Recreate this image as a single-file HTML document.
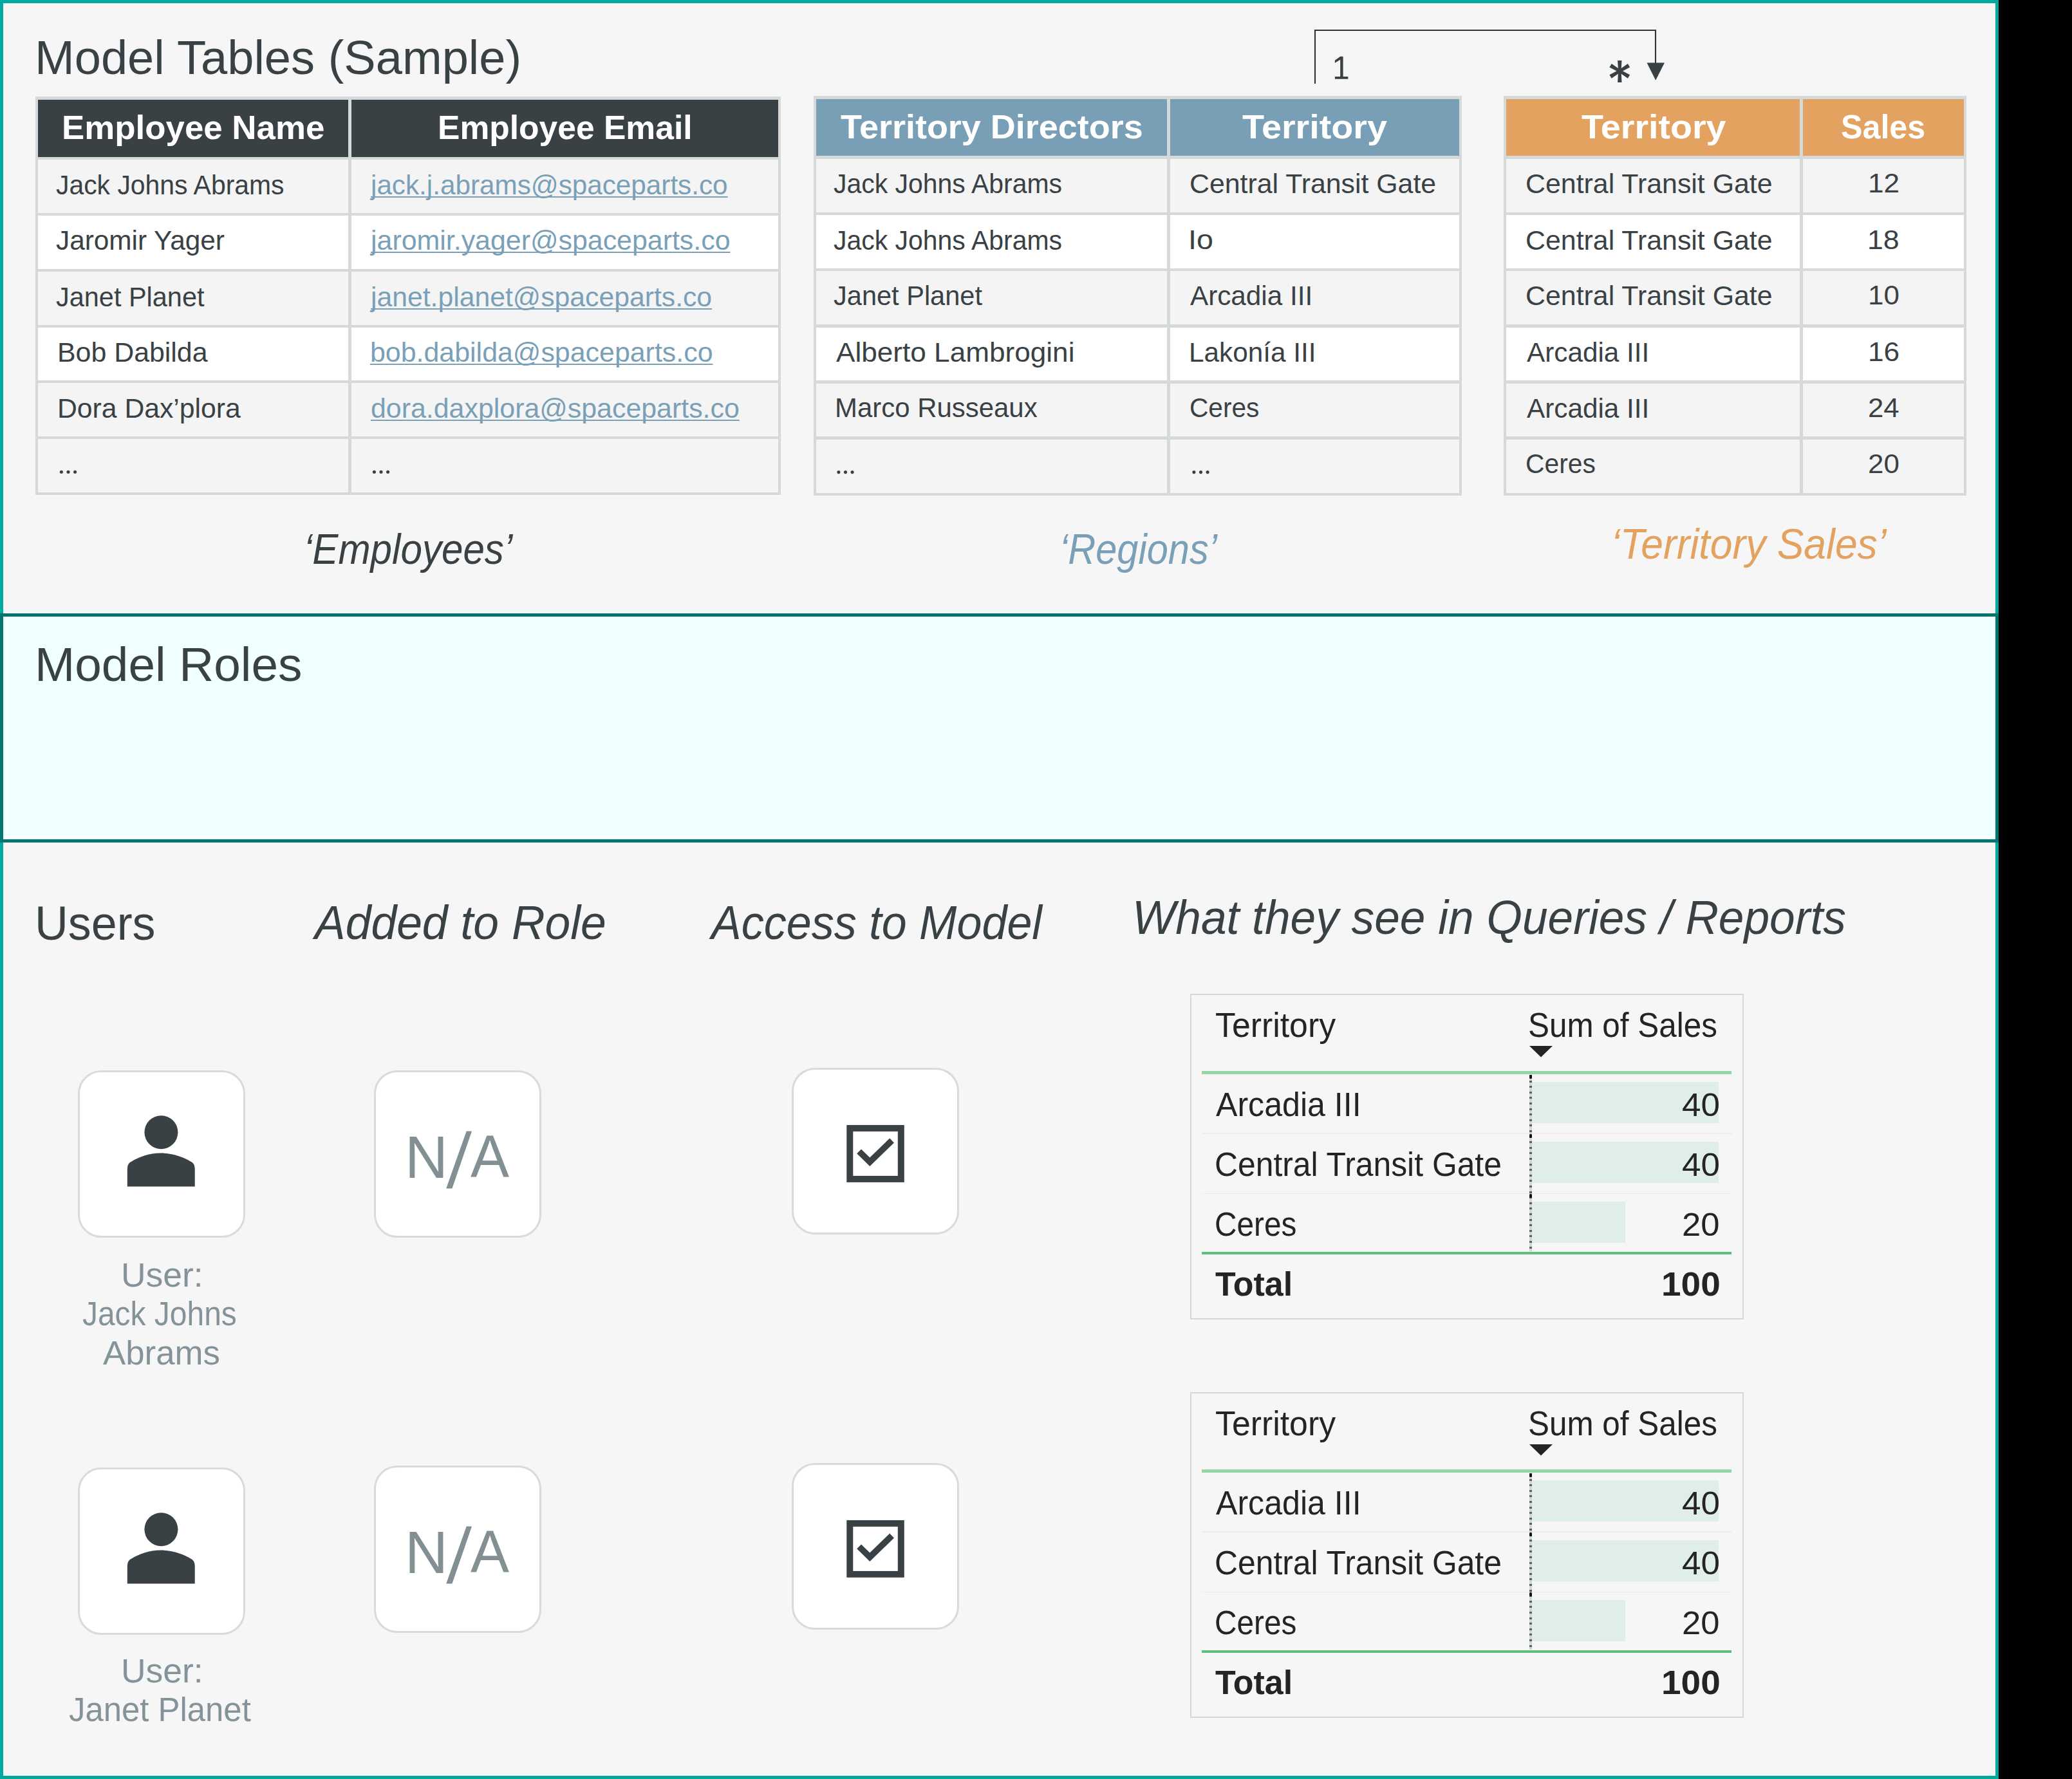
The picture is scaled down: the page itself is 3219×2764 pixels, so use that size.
<!DOCTYPE html>
<html><head><meta charset="utf-8"><title>Model Roles</title>
<style>
html,body{margin:0;padding:0;}
body{width:3219px;height:2764px;background:#000;position:relative;overflow:hidden;font-family:"Liberation Sans", sans-serif;}
</style></head><body>
<div style="position:absolute;left:0px;top:0px;width:3095px;height:2754px;border:5px solid #00a99d;background:#f6f6f6"></div>
<div style="position:absolute;left:0px;top:953px;width:3095px;height:346px;border:5px solid #03756f;background:#f0ffff"></div>
<div style="position:absolute;left:54.47px;top:53.01px;font-size:73.69px;line-height:73.69px;white-space:nowrap;transform:scaleX(1.0052);transform-origin:0 0;color:#394145;">Model Tables (Sample)</div>
<div style="position:absolute;left:53.52px;top:996.09px;font-size:73.84px;line-height:73.84px;white-space:nowrap;transform:scaleX(1.0123);transform-origin:0 0;color:#394145;">Model Roles</div>
<div style="position:absolute;left:54.12px;top:1398.14px;font-size:73.55px;line-height:73.55px;white-space:nowrap;transform:scaleX(0.9763);transform-origin:0 0;color:#394145;">Users</div>
<div style="position:absolute;left:488.87px;top:1397.21px;font-size:73.69px;line-height:73.69px;white-space:nowrap;transform:scaleX(0.9696);transform-origin:0 0;color:#394145;font-style:italic;">Added to Role</div>
<div style="position:absolute;left:1105.40px;top:1397.21px;font-size:73.69px;line-height:73.69px;white-space:nowrap;transform:scaleX(0.9506);transform-origin:0 0;color:#394145;font-style:italic;">Access to Model</div>
<div style="position:absolute;left:1759.34px;top:1389.34px;font-size:73.55px;line-height:73.55px;white-space:nowrap;transform:scaleX(0.9688);transform-origin:0 0;color:#394145;font-style:italic;">What they see in Queries / Reports</div>
<div style="position:absolute;left:55px;top:150.25px;width:1158px;height:619.05px;background:#d5d9da"></div>
<div style="position:absolute;left:59.4px;top:155.05px;width:482.1px;height:88.75px;background:#394145"></div>
<div style="position:absolute;left:545.9px;top:155.05px;width:662.9px;height:88.75px;background:#394145"></div>
<div style="position:absolute;left:96.06px;top:172.18px;font-size:52.47px;line-height:52.47px;white-space:nowrap;transform:scaleX(1.0073);transform-origin:0 0;color:#fff;font-weight:bold;">Employee Name</div>
<div style="position:absolute;left:680.05px;top:172.18px;font-size:52.47px;line-height:52.47px;white-space:nowrap;transform:scaleX(0.9829);transform-origin:0 0;color:#fff;font-weight:bold;">Employee Email</div>
<div style="position:absolute;left:59.4px;top:248.1px;width:482.1px;height:82.9px;background:#f4f4f4"></div>
<div style="position:absolute;left:545.9px;top:248.1px;width:662.9px;height:82.9px;background:#f4f4f4"></div>
<div style="position:absolute;left:86.89px;top:265.55px;font-size:42.59px;line-height:42.59px;white-space:nowrap;transform:scaleX(0.9602);transform-origin:0 0;color:#394145;">Jack Johns Abrams</div>
<div style="position:absolute;left:576.06px;top:265.55px;font-size:42.59px;line-height:42.59px;white-space:nowrap;transform:scaleX(0.9919);transform-origin:0 0;color:#7aa0b8;text-decoration:underline;text-decoration-thickness:2px;text-underline-offset:3px;text-decoration-skip-ink:none">jack.j.abrams@spaceparts.co</div>
<div style="position:absolute;left:59.4px;top:334.9px;width:482.1px;height:82.9px;background:#ffffff"></div>
<div style="position:absolute;left:545.9px;top:334.9px;width:662.9px;height:82.9px;background:#ffffff"></div>
<div style="position:absolute;left:86.87px;top:352.15px;font-size:42.59px;line-height:42.59px;white-space:nowrap;transform:scaleX(0.9938);transform-origin:0 0;color:#394145;">Jaromir Yager</div>
<div style="position:absolute;left:576.07px;top:352.15px;font-size:42.59px;line-height:42.59px;white-space:nowrap;transform:scaleX(1.0075);transform-origin:0 0;color:#7aa0b8;text-decoration:underline;text-decoration-thickness:2px;text-underline-offset:3px;text-decoration-skip-ink:none">jaromir.yager@spaceparts.co</div>
<div style="position:absolute;left:59.4px;top:421.7px;width:482.1px;height:82.9px;background:#f4f4f4"></div>
<div style="position:absolute;left:545.9px;top:421.7px;width:662.9px;height:82.9px;background:#f4f4f4"></div>
<div style="position:absolute;left:86.88px;top:439.75px;font-size:42.59px;line-height:42.59px;white-space:nowrap;transform:scaleX(0.9736);transform-origin:0 0;color:#394145;">Janet Planet</div>
<div style="position:absolute;left:576.07px;top:439.75px;font-size:42.59px;line-height:42.59px;white-space:nowrap;transform:scaleX(1.0031);transform-origin:0 0;color:#7aa0b8;text-decoration:underline;text-decoration-thickness:2px;text-underline-offset:3px;text-decoration-skip-ink:none">janet.planet@spaceparts.co</div>
<div style="position:absolute;left:59.4px;top:508.5px;width:482.1px;height:82.9px;background:#ffffff"></div>
<div style="position:absolute;left:545.9px;top:508.5px;width:662.9px;height:82.9px;background:#ffffff"></div>
<div style="position:absolute;left:89.07px;top:526.35px;font-size:42.59px;line-height:42.59px;white-space:nowrap;transform:scaleX(1.0067);transform-origin:0 0;color:#394145;">Bob Dabilda</div>
<div style="position:absolute;left:574.71px;top:526.35px;font-size:42.59px;line-height:42.59px;white-space:nowrap;transform:scaleX(1.0076);transform-origin:0 0;color:#7aa0b8;text-decoration:underline;text-decoration-thickness:2px;text-underline-offset:3px;text-decoration-skip-ink:none">bob.dabilda@spaceparts.co</div>
<div style="position:absolute;left:59.4px;top:595.3px;width:482.1px;height:82.9px;background:#f4f4f4"></div>
<div style="position:absolute;left:545.9px;top:595.3px;width:662.9px;height:82.9px;background:#f4f4f4"></div>
<div style="position:absolute;left:89.08px;top:612.95px;font-size:42.59px;line-height:42.59px;white-space:nowrap;transform:scaleX(1.0030);transform-origin:0 0;color:#394145;">Dora Dax&#8217;plora</div>
<div style="position:absolute;left:575.78px;top:612.95px;font-size:42.59px;line-height:42.59px;white-space:nowrap;transform:scaleX(1.0073);transform-origin:0 0;color:#7aa0b8;text-decoration:underline;text-decoration-thickness:2px;text-underline-offset:3px;text-decoration-skip-ink:none">dora.daxplora@spaceparts.co</div>
<div style="position:absolute;left:59.4px;top:682.1px;width:482.1px;height:82.9px;background:#f4f4f4"></div>
<div style="position:absolute;left:545.9px;top:682.1px;width:662.9px;height:82.9px;background:#f4f4f4"></div>
<svg style="position:absolute;left:0;top:0;overflow:visible" width="1" height="1"><circle cx="95.40" cy="733.20" r="2.55" fill="#394145"/><circle cx="106.00" cy="733.20" r="2.55" fill="#394145"/><circle cx="116.60" cy="733.20" r="2.55" fill="#394145"/></svg>
<svg style="position:absolute;left:0;top:0;overflow:visible" width="1" height="1"><circle cx="581.40" cy="733.20" r="2.55" fill="#394145"/><circle cx="592.00" cy="733.20" r="2.55" fill="#394145"/><circle cx="602.60" cy="733.20" r="2.55" fill="#394145"/></svg>
<div style="position:absolute;left:1264px;top:149.0px;width:1007px;height:621.0px;background:#d5d9da"></div>
<div style="position:absolute;left:1268.4px;top:153.8px;width:545.0999999999999px;height:88.5px;background:#799fb7"></div>
<div style="position:absolute;left:1817.9px;top:153.8px;width:448.9000000000001px;height:88.5px;background:#799fb7"></div>
<div style="position:absolute;left:1306.46px;top:170.98px;font-size:52.47px;line-height:52.47px;white-space:nowrap;transform:scaleX(1.0283);transform-origin:0 0;color:#fff;font-weight:bold;">Territory Directors</div>
<div style="position:absolute;left:1930.44px;top:170.98px;font-size:52.47px;line-height:52.47px;white-space:nowrap;transform:scaleX(1.0619);transform-origin:0 0;color:#fff;font-weight:bold;">Territory</div>
<div style="position:absolute;left:1268.4px;top:247.0px;width:545.0999999999999px;height:82.7px;background:#f4f4f4"></div>
<div style="position:absolute;left:1817.9px;top:247.0px;width:448.9000000000001px;height:82.7px;background:#f4f4f4"></div>
<div style="position:absolute;left:1295.39px;top:264.35px;font-size:42.59px;line-height:42.59px;white-space:nowrap;transform:scaleX(0.9616);transform-origin:0 0;color:#394145;">Jack Johns Abrams</div>
<div style="position:absolute;left:1847.86px;top:264.35px;font-size:42.59px;line-height:42.59px;white-space:nowrap;transform:scaleX(1.0056);transform-origin:0 0;color:#394145;">Central Transit Gate</div>
<div style="position:absolute;left:1268.4px;top:334.2px;width:545.0999999999999px;height:82.7px;background:#ffffff"></div>
<div style="position:absolute;left:1817.9px;top:334.2px;width:448.9000000000001px;height:82.7px;background:#ffffff"></div>
<div style="position:absolute;left:1295.39px;top:351.75px;font-size:42.59px;line-height:42.59px;white-space:nowrap;transform:scaleX(0.9616);transform-origin:0 0;color:#394145;">Jack Johns Abrams</div>
<div style="position:absolute;left:1846.41px;top:350.75px;font-size:42.59px;line-height:42.59px;white-space:nowrap;transform:scaleX(1.0925);transform-origin:0 0;color:#394145;">Io</div>
<div style="position:absolute;left:1268.4px;top:421.4px;width:545.0999999999999px;height:82.7px;background:#f4f4f4"></div>
<div style="position:absolute;left:1817.9px;top:421.4px;width:448.9000000000001px;height:82.7px;background:#f4f4f4"></div>
<div style="position:absolute;left:1295.38px;top:438.15px;font-size:42.59px;line-height:42.59px;white-space:nowrap;transform:scaleX(0.9757);transform-origin:0 0;color:#394145;">Janet Planet</div>
<div style="position:absolute;left:1849.00px;top:438.15px;font-size:42.59px;line-height:42.59px;white-space:nowrap;transform:scaleX(0.9920);transform-origin:0 0;color:#394145;">Arcadia III</div>
<div style="position:absolute;left:1268.4px;top:508.6px;width:545.0999999999999px;height:82.7px;background:#ffffff"></div>
<div style="position:absolute;left:1817.9px;top:508.6px;width:448.9000000000001px;height:82.7px;background:#ffffff"></div>
<div style="position:absolute;left:1299.00px;top:525.55px;font-size:42.59px;line-height:42.59px;white-space:nowrap;transform:scaleX(1.0366);transform-origin:0 0;color:#394145;">Alberto Lambrogini</div>
<div style="position:absolute;left:1847.22px;top:525.55px;font-size:42.59px;line-height:42.59px;white-space:nowrap;transform:scaleX(0.9931);transform-origin:0 0;color:#394145;">Lakon&#237;a III</div>
<div style="position:absolute;left:1268.4px;top:595.8px;width:545.0999999999999px;height:82.7px;background:#f4f4f4"></div>
<div style="position:absolute;left:1817.9px;top:595.8px;width:448.9000000000001px;height:82.7px;background:#f4f4f4"></div>
<div style="position:absolute;left:1296.64px;top:611.95px;font-size:42.59px;line-height:42.59px;white-space:nowrap;transform:scaleX(0.9848);transform-origin:0 0;color:#394145;">Marco Russeaux</div>
<div style="position:absolute;left:1847.97px;top:611.95px;font-size:42.59px;line-height:42.59px;white-space:nowrap;transform:scaleX(0.9538);transform-origin:0 0;color:#394145;">Ceres</div>
<div style="position:absolute;left:1268.4px;top:683.0px;width:545.0999999999999px;height:82.7px;background:#f4f4f4"></div>
<div style="position:absolute;left:1817.9px;top:683.0px;width:448.9000000000001px;height:82.7px;background:#f4f4f4"></div>
<svg style="position:absolute;left:0;top:0;overflow:visible" width="1" height="1"><circle cx="1302.90" cy="733.60" r="2.55" fill="#394145"/><circle cx="1313.50" cy="733.60" r="2.55" fill="#394145"/><circle cx="1324.10" cy="733.60" r="2.55" fill="#394145"/></svg>
<svg style="position:absolute;left:0;top:0;overflow:visible" width="1" height="1"><circle cx="1854.90" cy="733.60" r="2.55" fill="#394145"/><circle cx="1865.50" cy="733.60" r="2.55" fill="#394145"/><circle cx="1876.10" cy="733.60" r="2.55" fill="#394145"/></svg>
<div style="position:absolute;left:2336px;top:149.0px;width:719px;height:621.0px;background:#d5d9da"></div>
<div style="position:absolute;left:2340.4px;top:153.8px;width:456.0999999999999px;height:88.5px;background:#e4a261"></div>
<div style="position:absolute;left:2800.9px;top:153.8px;width:249.9000000000001px;height:88.5px;background:#e4a261"></div>
<div style="position:absolute;left:2456.94px;top:170.98px;font-size:52.47px;line-height:52.47px;white-space:nowrap;transform:scaleX(1.0596);transform-origin:0 0;color:#fff;font-weight:bold;">Territory</div>
<div style="position:absolute;left:2860.49px;top:170.98px;font-size:52.47px;line-height:52.47px;white-space:nowrap;transform:scaleX(0.9567);transform-origin:0 0;color:#fff;font-weight:bold;">Sales</div>
<div style="position:absolute;left:2340.4px;top:247.0px;width:456.0999999999999px;height:82.7px;background:#f4f4f4"></div>
<div style="position:absolute;left:2800.9px;top:247.0px;width:249.9000000000001px;height:82.7px;background:#f4f4f4"></div>
<div style="position:absolute;left:2370.36px;top:264.35px;font-size:42.59px;line-height:42.59px;white-space:nowrap;transform:scaleX(1.0069);transform-origin:0 0;color:#394145;">Central Transit Gate</div>
<div style="position:absolute;left:2901.69px;top:263.35px;font-size:42.59px;line-height:42.59px;white-space:nowrap;transform:scaleX(1.0370);transform-origin:0 0;color:#394145;">12</div>
<div style="position:absolute;left:2340.4px;top:334.2px;width:456.0999999999999px;height:82.7px;background:#ffffff"></div>
<div style="position:absolute;left:2800.9px;top:334.2px;width:249.9000000000001px;height:82.7px;background:#ffffff"></div>
<div style="position:absolute;left:2370.36px;top:351.75px;font-size:42.59px;line-height:42.59px;white-space:nowrap;transform:scaleX(1.0069);transform-origin:0 0;color:#394145;">Central Transit Gate</div>
<div style="position:absolute;left:2901.15px;top:350.75px;font-size:42.59px;line-height:42.59px;white-space:nowrap;transform:scaleX(1.0502);transform-origin:0 0;color:#394145;">18</div>
<div style="position:absolute;left:2340.4px;top:421.4px;width:456.0999999999999px;height:82.7px;background:#f4f4f4"></div>
<div style="position:absolute;left:2800.9px;top:421.4px;width:249.9000000000001px;height:82.7px;background:#f4f4f4"></div>
<div style="position:absolute;left:2370.36px;top:438.15px;font-size:42.59px;line-height:42.59px;white-space:nowrap;transform:scaleX(1.0069);transform-origin:0 0;color:#394145;">Central Transit Gate</div>
<div style="position:absolute;left:2901.70px;top:437.15px;font-size:42.59px;line-height:42.59px;white-space:nowrap;transform:scaleX(1.0332);transform-origin:0 0;color:#394145;">10</div>
<div style="position:absolute;left:2340.4px;top:508.6px;width:456.0999999999999px;height:82.7px;background:#ffffff"></div>
<div style="position:absolute;left:2800.9px;top:508.6px;width:249.9000000000001px;height:82.7px;background:#ffffff"></div>
<div style="position:absolute;left:2372.00px;top:525.55px;font-size:42.59px;line-height:42.59px;white-space:nowrap;transform:scaleX(0.9930);transform-origin:0 0;color:#394145;">Arcadia III</div>
<div style="position:absolute;left:2901.68px;top:524.55px;font-size:42.59px;line-height:42.59px;white-space:nowrap;transform:scaleX(1.0384);transform-origin:0 0;color:#394145;">16</div>
<div style="position:absolute;left:2340.4px;top:595.8px;width:456.0999999999999px;height:82.7px;background:#f4f4f4"></div>
<div style="position:absolute;left:2800.9px;top:595.8px;width:249.9000000000001px;height:82.7px;background:#f4f4f4"></div>
<div style="position:absolute;left:2372.00px;top:612.95px;font-size:42.59px;line-height:42.59px;white-space:nowrap;transform:scaleX(0.9930);transform-origin:0 0;color:#394145;">Arcadia III</div>
<div style="position:absolute;left:2901.82px;top:611.95px;font-size:42.59px;line-height:42.59px;white-space:nowrap;transform:scaleX(1.0259);transform-origin:0 0;color:#394145;">24</div>
<div style="position:absolute;left:2340.4px;top:683.0px;width:456.0999999999999px;height:82.7px;background:#f4f4f4"></div>
<div style="position:absolute;left:2800.9px;top:683.0px;width:249.9000000000001px;height:82.7px;background:#f4f4f4"></div>
<div style="position:absolute;left:2370.46px;top:699.35px;font-size:42.59px;line-height:42.59px;white-space:nowrap;transform:scaleX(0.9583);transform-origin:0 0;color:#394145;">Ceres</div>
<div style="position:absolute;left:2901.80px;top:699.35px;font-size:42.59px;line-height:42.59px;white-space:nowrap;transform:scaleX(1.0309);transform-origin:0 0;color:#394145;">20</div>
<div style="position:absolute;left:472.28px;top:820.49px;font-size:66.28px;line-height:66.28px;white-space:nowrap;transform:scaleX(0.9078);transform-origin:0 0;color:#394145;font-style:italic;">&#8216;Employees&#8217;</div>
<div style="position:absolute;left:1646.34px;top:820.49px;font-size:66.28px;line-height:66.28px;white-space:nowrap;transform:scaleX(0.8985);transform-origin:0 0;color:#7aa0b8;font-style:italic;">&#8216;Regions&#8217;</div>
<div style="position:absolute;left:2502.57px;top:811.89px;font-size:66.28px;line-height:66.28px;white-space:nowrap;transform:scaleX(0.9416);transform-origin:0 0;color:#e4a261;font-style:italic;">&#8216;Territory Sales&#8217;</div>
<svg style="position:absolute;left:0;top:0" width="3219" height="200" viewBox="0 0 3219 200">
<path d="M2043,130 V47 H2572 V100" fill="none" stroke="#2d3436" stroke-width="2.1"/>
<path d="M2558.5,97.5 H2586 L2572.2,124.8 Z" fill="#394145"/>
<path fill="#394145" d="M2518.50,110.40 L2519.50,94.00 L2513.10,94.00 L2514.10,110.40 Z M2514.10,110.40 L2513.10,128.00 L2519.50,128.00 L2518.50,110.40 Z M2517.43,108.51 L2503.72,99.11 L2500.42,104.59 L2515.17,112.29 Z M2515.17,108.51 L2500.42,116.21 L2503.72,121.69 L2517.43,112.29 Z M2517.43,112.29 L2532.18,104.59 L2528.88,99.11 L2515.17,108.51 Z M2515.17,112.29 L2528.88,121.69 L2532.18,116.21 L2517.43,108.51 Z"/>
<path fill="#394145" d="M2082.2,87.8 L2086.6,87.8 L2086.6,119.1 L2094.3,119.1 L2094.3,122.8 L2073.9,122.8 L2073.9,119.1 L2082.2,119.1 L2082.2,92.8 L2073.9,97.8 L2073.9,93.7 Z"/>
</svg>
<div style="position:absolute;left:121.3px;top:1663.4px;width:260px;height:260px;border:3px solid #dadada;background:#fff;border-radius:36px;box-sizing:border-box"></div>
<svg style="position:absolute;left:121.3px;top:1663.4px" width="259" height="259" viewBox="0 0 259 259">
<circle cx="129.4" cy="96.2" r="26" fill="#394145"/>
<path d="M76.8,180.5 V153 Q76.8,144.5 83.5,141.5 C94,135 111,128.6 129.2,128.6 C147.5,128.6 164.5,135 175,141.5 Q181.7,144.5 181.7,153 V180.5 Z" fill="#394145"/>
</svg>
<div style="position:absolute;left:581.3px;top:1663.4px;width:260px;height:260px;border:3px solid #dadada;background:#fff;border-radius:36px;box-sizing:border-box"></div>
<div style="position:absolute;left:629.49px;top:1752.45px;font-size:93.02px;line-height:93.02px;white-space:nowrap;transform:scaleX(0.9963);transform-origin:0 0;color:#828f93;">N</div>
<div style="position:absolute;left:731.30px;top:1751.35px;font-size:93.02px;line-height:93.02px;white-space:nowrap;transform:scaleX(0.9667);transform-origin:0 0;color:#828f93;">A</div>
<svg style="position:absolute;left:581.3px;top:1663.4px" width="260" height="260"><path d="M143.7,94.4 H152 L121.4,183.4 H112.2 Z" fill="#828f93"/></svg>
<div style="position:absolute;left:1230.2px;top:1659.1px;width:260px;height:259px;border:3px solid #dadada;background:#fff;border-radius:36px;box-sizing:border-box"></div>
<svg style="position:absolute;left:1230.2px;top:1659.1px" width="259" height="259" viewBox="0 0 259 259">
<rect x="90.3" y="93.9" width="79.5" height="79" fill="none" stroke="#394145" stroke-width="10"/>
<path d="M104.6,129.9 L121.3,146.3 L155.6,113" fill="none" stroke="#394145" stroke-width="9.7" stroke-linecap="butt" stroke-linejoin="miter"/>
</svg>
<div style="position:absolute;left:121.3px;top:2280px;width:260px;height:260px;border:3px solid #dadada;background:#fff;border-radius:36px;box-sizing:border-box"></div>
<svg style="position:absolute;left:121.3px;top:2280px" width="259" height="259" viewBox="0 0 259 259">
<circle cx="129.4" cy="96.2" r="26" fill="#394145"/>
<path d="M76.8,180.5 V153 Q76.8,144.5 83.5,141.5 C94,135 111,128.6 129.2,128.6 C147.5,128.6 164.5,135 175,141.5 Q181.7,144.5 181.7,153 V180.5 Z" fill="#394145"/>
</svg>
<div style="position:absolute;left:581.3px;top:2277px;width:260px;height:260px;border:3px solid #dadada;background:#fff;border-radius:36px;box-sizing:border-box"></div>
<div style="position:absolute;left:629.49px;top:2365.65px;font-size:93.02px;line-height:93.02px;white-space:nowrap;transform:scaleX(0.9963);transform-origin:0 0;color:#828f93;">N</div>
<div style="position:absolute;left:731.30px;top:2364.95px;font-size:93.02px;line-height:93.02px;white-space:nowrap;transform:scaleX(0.9667);transform-origin:0 0;color:#828f93;">A</div>
<svg style="position:absolute;left:581.3px;top:2277px" width="260" height="260"><path d="M143.7,94.4 H152 L121.4,183.4 H112.2 Z" fill="#828f93"/></svg>
<div style="position:absolute;left:1230.2px;top:2273px;width:260px;height:259px;border:3px solid #dadada;background:#fff;border-radius:36px;box-sizing:border-box"></div>
<svg style="position:absolute;left:1230.2px;top:2273px" width="259" height="259" viewBox="0 0 259 259">
<rect x="90.3" y="93.9" width="79.5" height="79" fill="none" stroke="#394145" stroke-width="10"/>
<path d="M104.6,129.9 L121.3,146.3 L155.6,113" fill="none" stroke="#394145" stroke-width="9.7" stroke-linecap="butt" stroke-linejoin="miter"/>
</svg>
<div style="position:absolute;left:187.50px;top:1954.70px;font-size:52.33px;line-height:52.33px;white-space:nowrap;transform:scaleX(1.0201);transform-origin:0 0;color:#84939a;">User:</div>
<div style="position:absolute;left:128.28px;top:2014.70px;font-size:52.33px;line-height:52.33px;white-space:nowrap;transform:scaleX(0.9160);transform-origin:0 0;color:#84939a;">Jack Johns</div>
<div style="position:absolute;left:160.00px;top:2075.70px;font-size:52.33px;line-height:52.33px;white-space:nowrap;transform:scaleX(1.0088);transform-origin:0 0;color:#84939a;">Abrams</div>
<div style="position:absolute;left:187.50px;top:2569.70px;font-size:52.33px;line-height:52.33px;white-space:nowrap;transform:scaleX(1.0201);transform-origin:0 0;color:#84939a;">User:</div>
<div style="position:absolute;left:106.74px;top:2629.70px;font-size:52.33px;line-height:52.33px;white-space:nowrap;transform:scaleX(0.9720);transform-origin:0 0;color:#84939a;">Janet Planet</div>
<div style="position:absolute;left:1848.5px;top:1544px;width:860.5px;height:505.5px;border:2px solid #d3d7d7;box-sizing:border-box"></div>
<div style="position:absolute;left:1887.96px;top:1566.47px;font-size:53.78px;line-height:53.78px;white-space:nowrap;transform:scaleX(0.9634);transform-origin:0 0;color:#252423;">Territory</div>
<div style="position:absolute;left:2373.77px;top:1566.47px;font-size:53.78px;line-height:53.78px;white-space:nowrap;transform:scaleX(0.9194);transform-origin:0 0;color:#252423;">Sum of Sales</div>
<svg style="position:absolute;left:2370px;top:1620px" width="50" height="30"><path d="M6,5 H42 L24,22.5 Z" fill="#252423"/></svg>
<div style="position:absolute;left:1866.5px;top:1664px;width:823.5px;height:5px;background:#95d4a9"></div>
<div style="position:absolute;left:2380px;top:1681px;width:290px;height:64px;background:#dfeeea"></div>
<div style="position:absolute;left:1889.00px;top:1689.70px;font-size:52.33px;line-height:52.33px;white-space:nowrap;transform:scaleX(0.9577);transform-origin:0 0;color:#252423;">Arcadia III</div>
<div style="position:absolute;left:2612.94px;top:1691.93px;font-size:50.87px;line-height:50.87px;white-space:nowrap;transform:scaleX(1.0434);transform-origin:0 0;color:#252423;">40</div>
<div style="position:absolute;left:2380px;top:1774px;width:290px;height:64px;background:#dfeeea"></div>
<div style="position:absolute;left:1886.51px;top:1782.70px;font-size:52.33px;line-height:52.33px;white-space:nowrap;transform:scaleX(0.9523);transform-origin:0 0;color:#252423;">Central Transit Gate</div>
<div style="position:absolute;left:2612.94px;top:1784.93px;font-size:50.87px;line-height:50.87px;white-space:nowrap;transform:scaleX(1.0434);transform-origin:0 0;color:#252423;">40</div>
<div style="position:absolute;left:2380px;top:1867px;width:145px;height:64px;background:#dfeeea"></div>
<div style="position:absolute;left:1886.61px;top:1875.70px;font-size:52.33px;line-height:52.33px;white-space:nowrap;transform:scaleX(0.9130);transform-origin:0 0;color:#252423;">Ceres</div>
<div style="position:absolute;left:2613.37px;top:1877.93px;font-size:50.87px;line-height:50.87px;white-space:nowrap;transform:scaleX(1.0356);transform-origin:0 0;color:#252423;">20</div>
<div style="position:absolute;left:1866.5px;top:1760px;width:823.5px;height:1.5px;background:#ececec"></div>
<div style="position:absolute;left:1866.5px;top:1853.5px;width:823.5px;height:1.5px;background:#ececec"></div>
<div style="position:absolute;left:2376px;top:1670px;width:4px;height:274px;background:repeating-linear-gradient(to bottom,#5c6262 0 3px,rgba(170,175,175,0.45) 3px 8.6px)"></div>
<div style="position:absolute;left:2376px;top:1670px;width:4px;height:6px;background:#111;border-radius:1.5px"></div>
<div style="position:absolute;left:2376px;top:1762px;width:4px;height:6px;background:#111;border-radius:1.5px"></div>
<div style="position:absolute;left:2376px;top:1855px;width:4px;height:6px;background:#111;border-radius:1.5px"></div>
<div style="position:absolute;left:1866.5px;top:1944.5px;width:823.5px;height:4px;background:#5fbd80"></div>
<div style="position:absolute;left:1888.48px;top:1968.70px;font-size:52.33px;line-height:52.33px;white-space:nowrap;transform:scaleX(0.9919);transform-origin:0 0;color:#252423;font-weight:bold;">Total</div>
<div style="position:absolute;left:2580.70px;top:1968.70px;font-size:52.33px;line-height:52.33px;white-space:nowrap;transform:scaleX(1.0502);transform-origin:0 0;color:#252423;font-weight:bold;">100</div>
<div style="position:absolute;left:1848.5px;top:2163px;width:860.5px;height:505.5px;border:2px solid #d3d7d7;box-sizing:border-box"></div>
<div style="position:absolute;left:1887.96px;top:2185.47px;font-size:53.78px;line-height:53.78px;white-space:nowrap;transform:scaleX(0.9634);transform-origin:0 0;color:#252423;">Territory</div>
<div style="position:absolute;left:2373.77px;top:2185.47px;font-size:53.78px;line-height:53.78px;white-space:nowrap;transform:scaleX(0.9194);transform-origin:0 0;color:#252423;">Sum of Sales</div>
<svg style="position:absolute;left:2370px;top:2239px" width="50" height="30"><path d="M6,5 H42 L24,22.5 Z" fill="#252423"/></svg>
<div style="position:absolute;left:1866.5px;top:2283px;width:823.5px;height:5px;background:#95d4a9"></div>
<div style="position:absolute;left:2380px;top:2300px;width:290px;height:64px;background:#dfeeea"></div>
<div style="position:absolute;left:1889.00px;top:2308.70px;font-size:52.33px;line-height:52.33px;white-space:nowrap;transform:scaleX(0.9577);transform-origin:0 0;color:#252423;">Arcadia III</div>
<div style="position:absolute;left:2612.94px;top:2310.93px;font-size:50.87px;line-height:50.87px;white-space:nowrap;transform:scaleX(1.0434);transform-origin:0 0;color:#252423;">40</div>
<div style="position:absolute;left:2380px;top:2393px;width:290px;height:64px;background:#dfeeea"></div>
<div style="position:absolute;left:1886.51px;top:2401.70px;font-size:52.33px;line-height:52.33px;white-space:nowrap;transform:scaleX(0.9523);transform-origin:0 0;color:#252423;">Central Transit Gate</div>
<div style="position:absolute;left:2612.94px;top:2403.93px;font-size:50.87px;line-height:50.87px;white-space:nowrap;transform:scaleX(1.0434);transform-origin:0 0;color:#252423;">40</div>
<div style="position:absolute;left:2380px;top:2486px;width:145px;height:64px;background:#dfeeea"></div>
<div style="position:absolute;left:1886.61px;top:2494.70px;font-size:52.33px;line-height:52.33px;white-space:nowrap;transform:scaleX(0.9130);transform-origin:0 0;color:#252423;">Ceres</div>
<div style="position:absolute;left:2613.37px;top:2496.93px;font-size:50.87px;line-height:50.87px;white-space:nowrap;transform:scaleX(1.0356);transform-origin:0 0;color:#252423;">20</div>
<div style="position:absolute;left:1866.5px;top:2379px;width:823.5px;height:1.5px;background:#ececec"></div>
<div style="position:absolute;left:1866.5px;top:2472.5px;width:823.5px;height:1.5px;background:#ececec"></div>
<div style="position:absolute;left:2376px;top:2289px;width:4px;height:274px;background:repeating-linear-gradient(to bottom,#5c6262 0 3px,rgba(170,175,175,0.45) 3px 8.6px)"></div>
<div style="position:absolute;left:2376px;top:2289px;width:4px;height:6px;background:#111;border-radius:1.5px"></div>
<div style="position:absolute;left:2376px;top:2381px;width:4px;height:6px;background:#111;border-radius:1.5px"></div>
<div style="position:absolute;left:2376px;top:2474px;width:4px;height:6px;background:#111;border-radius:1.5px"></div>
<div style="position:absolute;left:1866.5px;top:2563.5px;width:823.5px;height:4px;background:#5fbd80"></div>
<div style="position:absolute;left:1888.48px;top:2587.70px;font-size:52.33px;line-height:52.33px;white-space:nowrap;transform:scaleX(0.9919);transform-origin:0 0;color:#252423;font-weight:bold;">Total</div>
<div style="position:absolute;left:2580.70px;top:2587.70px;font-size:52.33px;line-height:52.33px;white-space:nowrap;transform:scaleX(1.0502);transform-origin:0 0;color:#252423;font-weight:bold;">100</div>
</body></html>
